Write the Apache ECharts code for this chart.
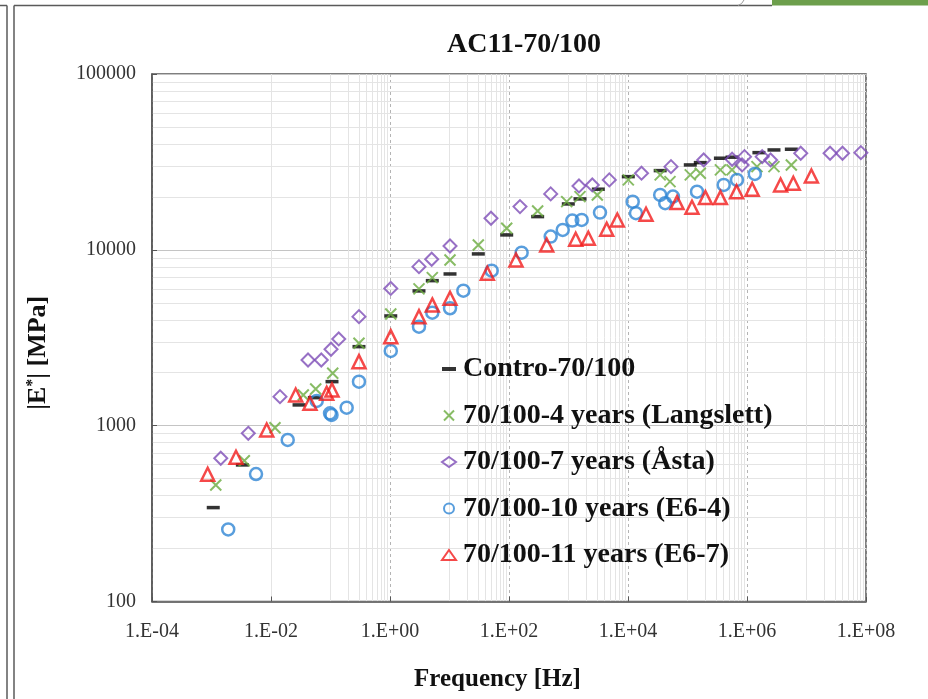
<!DOCTYPE html>
<html>
<head>
<meta charset="utf-8">
<script src="https://cdn.jsdelivr.net/npm/echarts@6/dist/echarts.min.js"></script>
<style>
  html, body { margin: 0; padding: 0; background: #ffffff; }
  #chart { width: 928px; height: 699px; }
</style>
</head>
<body>
<div id="chart"></div>
<script>
// ---------- data ----------
const seriesNames = [
  'Contro-70/100',
  '70/100-4 years (Langslett)',
  '70/100-7 years (Åsta)',
  '70/100-10 years (E6-4)',
  '70/100-11 years (E6-7)'
];

const freqControl = [1.07e-3, 3.30e-3, 0.0296, 0.0535, 0.106, 0.301, 1.03, 3.07, 5.14, 10.2, 30.5, 91.5, 303, 993, 1561, 3170, 10120, 34750, 111400, 164100, 357300, 560000, 1585000, 2840000, 5560000];
const modControl  = [342, 598, 1312, 1443, 1780, 2814, 4207, 5837, 6680, 7290, 9480, 12160, 15450, 18240, 19480, 22120, 26080, 28220, 30400, 31330, 33190, 33640, 35710, 36990, 37330];

const freqLangslett = [1.18e-3, 3.56e-3, 0.01167, 0.0349, 0.0564, 0.109, 0.301, 1.03, 3.07, 5.14, 10.2, 30.5, 91.5, 303, 933, 1561, 3048, 10120, 34750, 50800, 111400, 164100, 357300, 560000, 1472000, 2840000, 5560000];
const modLangslett  = [460, 632, 974, 1495, 1618, 1987, 2942, 4318, 5995, 6950, 8760, 10660, 13270, 16640, 18800, 20080, 20520, 24990, 26680, 24430, 26680, 27290, 28480, 28480, 29730, 29730, 30400];

const freqAsta = [1.43e-3, 4.15e-3, 0.01416, 0.0419, 0.070, 0.102, 0.1375, 0.301, 1.03, 3.07, 5.02, 10.2, 49.8, 153, 502, 1500, 2512, 4850, 16870, 52800, 187100, 562000, 828000, 908000, 1800000, 2490000, 8000000, 24900000, 40300000, 82000000];
const modAsta  = [653, 905, 1462, 2364, 2364, 2720, 3113, 4169, 6032, 8025, 8843, 10520, 15130, 17610, 20800, 23090, 23390, 24990, 27290, 29730, 32460, 32740, 30400, 33890, 33890, 32460, 35440, 35440, 35440, 35710];

const freqE64 = [1.91e-3, 5.60e-3, 0.0191, 0.0586, 0.0982, 0.104, 0.187, 0.301, 1.03, 3.07, 5.14, 10.2, 17.1, 51.2, 163, 502, 800, 1158, 1667, 3383, 12000, 13620, 34750, 42200, 57000, 144500, 406000, 679000, 1352000];
const modE64  = [257, 531, 829, 1382, 1176, 1151, 1266, 1779, 2661, 3658, 4394, 4653, 5860, 7614, 9640, 11890, 12980, 14660, 14790, 16280, 18800, 16150, 20520, 18410, 20080, 21430, 23390, 24990, 27030];

const freqE67 = [8.63e-4, 2.58e-3, 8.47e-3, 0.026, 0.0452, 0.0863, 0.106, 0.301, 1.03, 3.07, 5.14, 10.2, 43.2, 131, 430, 1321, 2153, 4385, 6610, 20090, 66650, 119000, 200000, 357300, 667000, 1222000, 3670000, 6000000, 12080000];
const modE67  = [529, 661, 945, 1495, 1341, 1529, 1596, 2312, 3208, 4169, 4860, 5305, 7360, 8760, 10660, 11490, 11640, 13100, 14790, 15940, 18560, 17470, 19820, 19820, 21430, 22120, 23390, 23930, 26310];

const xTickValues = [1e-4, 1e-2, 1e0, 1e2, 1e4, 1e6, 1e8];
const xTickLabels = ['1.E-04', '1.E-02', '1.E+00', '1.E+02', '1.E+04', '1.E+06', '1.E+08'];
const yTickValues = [100, 1000, 10000, 100000];
const yTickLabels = ['100', '1000', '10000', '100000'];

const titleText = 'AC11-70/100';
const xTitle = 'Frequency [Hz]';

// ---------- helpers ----------
function pairs(xs, ys) { return xs.map((x, i) => [x, ys[i]]); }
function labelFor(values, labels, v) {
  let best = 0, bd = Infinity;
  values.forEach((t, i) => { const d = Math.abs(Math.log10(t) - Math.log10(v)); if (d < bd) { bd = d; best = i; } });
  return bd < 0.01 ? labels[best] : '';
}

// gridline positions (axis values, not data)
const minorX = [];
for (let e = -3; e <= 7; e += 2) for (let k = 1; k <= 9; k++) minorX.push(k * Math.pow(10, e));
const minorY = [];
for (let e = 2; e <= 4; e++) for (let k = 2; k <= 9; k++) minorY.push(k * Math.pow(10, e));

const FONT = '"Liberation Serif", "Times New Roman", serif';
const minorStyle = { color: '#e4e4e4', width: 1, type: 'solid' };

const gridLines = [].concat(
  minorX.map(v => ({ xAxis: v, lineStyle: minorStyle })),
  minorY.map(v => ({ yAxis: v, lineStyle: minorStyle }))
);

const chart = echarts.init(document.getElementById('chart'), null, { renderer: 'canvas' });

const option = {
  animation: false,
  backgroundColor: '#ffffff',
  title: {
    text: titleText,
    left: 519,
    top: 26,
    textAlign: 'center',
    textStyle: { fontFamily: FONT, fontWeight: 'bold', fontSize: 28, color: '#111' }
  },
  grid: {
    left: 152, right: 62, top: 74, bottom: 97.5,
    show: true, borderColor: '#555', borderWidth: 1.5, backgroundColor: 'transparent'
  },
  xAxis: {
    type: 'log', logBase: 10, min: 1e-4, max: 1e8, interval: 2,
    name: xTitle, nameLocation: 'middle', nameGap: 66,
    nameTextStyle: { fontFamily: FONT, fontWeight: 'bold', fontSize: 25, color: '#111', padding: [0, 23, 0, 0] },
    axisLine: { show: true, lineStyle: { color: '#555', width: 1.5 } },
    axisTick: { show: true, inside: true, length: 5, lineStyle: { color: '#555' } },
    axisLabel: {
      margin: 20, fontFamily: FONT, fontSize: 20, color: '#333',
      formatter: v => labelFor(xTickValues, xTickLabels, v)
    },
    splitLine: { show: true, lineStyle: { color: '#b4b4b4', type: [3, 3], width: 1 } }
  },
  yAxis: {
    type: 'log', logBase: 10, min: 100, max: 100000,
    name: '{a||E}{s|*}{a|| [MPa]}', nameLocation: 'middle', nameGap: 101, nameRotate: 90,
    nameTextStyle: {
      padding: [0, 30, 0, 0],
      rich: {
        a: { fontFamily: FONT, fontWeight: 'bold', fontSize: 26, color: '#111' },
        s: { fontFamily: FONT, fontWeight: 'bold', fontSize: 16, color: '#111', verticalAlign: 'top', padding: [0, 0, 8, 0] }
      }
    },
    axisLine: { show: true, lineStyle: { color: '#555', width: 1.5 } },
    axisTick: { show: true, inside: true, length: 5, lineStyle: { color: '#555' } },
    axisLabel: {
      margin: 16, fontFamily: FONT, fontSize: 20, color: '#333',
      formatter: v => labelFor(yTickValues, yTickLabels, v)
    },
    splitLine: { show: true, lineStyle: { color: '#c4c4c4', width: 1 } }
  },
  legend: {
    orient: 'vertical', left: 436, top: 350, itemGap: 18.5, z: 20,
    itemWidth: 14, itemHeight: 10, selectedMode: false,
    textStyle: { fontFamily: FONT, fontWeight: 'bold', fontSize: 28, color: '#111', lineHeight: 26, padding: [0, 0, 0, 2] },
    data: [
      { name: seriesNames[0], icon: 'path://M0,0h14v4h-14z' },
      { name: seriesNames[1], icon: 'path://M0,0L10,10M10,0L0,10' },
      { name: seriesNames[2], icon: 'diamond' },
      { name: seriesNames[3], icon: 'circle' },
      { name: seriesNames[4], icon: 'triangle' }
    ]
  },
  series: [
    {
      name: '_grid', type: 'line', data: [], silent: true, z: 0,
      markLine: {
        silent: true, symbol: ['none', 'none'], label: { show: false }, z: 0,
        animation: false, emphasis: { disabled: true }, data: gridLines
      }
    },
    {
      name: seriesNames[0], type: 'scatter', z: 3,
      symbol: 'rect', symbolSize: [13, 3.5],
      itemStyle: { color: '#000000' },
      data: pairs(freqControl, modControl)
    },
    {
      name: seriesNames[1], type: 'scatter', z: 3,
      symbol: 'path://M0,0L10,10M10,0L0,10', symbolSize: 11,
      itemStyle: { color: 'rgba(0,0,0,0)', borderColor: '#6aab3e', borderWidth: 2 },
      data: pairs(freqLangslett, modLangslett)
    },
    {
      name: seriesNames[2], type: 'scatter', z: 3,
      symbol: 'diamond', symbolSize: 13,
      itemStyle: { color: 'rgba(0,0,0,0)', borderColor: '#7d4cb6', borderWidth: 2 },
      data: pairs(freqAsta, modAsta)
    },
    {
      name: seriesNames[3], type: 'scatter', z: 3,
      symbol: 'circle', symbolSize: 12,
      itemStyle: { color: 'rgba(0,0,0,0)', borderColor: '#2f86d4', borderWidth: 2.5 },
      data: pairs(freqE64, modE64)
    },
    {
      name: seriesNames[4], type: 'scatter', z: 3,
      symbol: 'triangle', symbolSize: 13,
      itemStyle: { color: 'rgba(0,0,0,0)', borderColor: '#f21b1b', borderWidth: 2.5 },
      data: pairs(freqE67, modE67)
    }
  ],
  graphic: [
    { type: 'line', shape: { x1: 0, y1: 5.5, x2: 7, y2: 5.5 }, style: { stroke: '#5a5a5a', lineWidth: 1.5 } },
    { type: 'line', shape: { x1: 7, y1: 5.5, x2: 7, y2: 699 }, style: { stroke: '#5a5a5a', lineWidth: 1.5 } },
    { type: 'line', shape: { x1: 14, y1: 5.5, x2: 14, y2: 699 }, style: { stroke: '#5a5a5a', lineWidth: 1.5 } },
    { type: 'line', shape: { x1: 14, y1: 5.5, x2: 772, y2: 5.5 }, style: { stroke: '#5a5a5a', lineWidth: 1.5 } },
    { type: 'rect', shape: { x: 772, y: 0, width: 156, height: 5.5 }, style: { fill: '#6d9f4c' } },
    { type: 'bezierCurve', shape: { x1: 738, y1: 5.5, cpx1: 742, cpy1: 4.5, x2: 744, y2: 0 }, style: { stroke: '#9a9a9a', lineWidth: 1, fill: null } }
  ]
};

chart.setOption(option);
</script>
</body>
</html>
